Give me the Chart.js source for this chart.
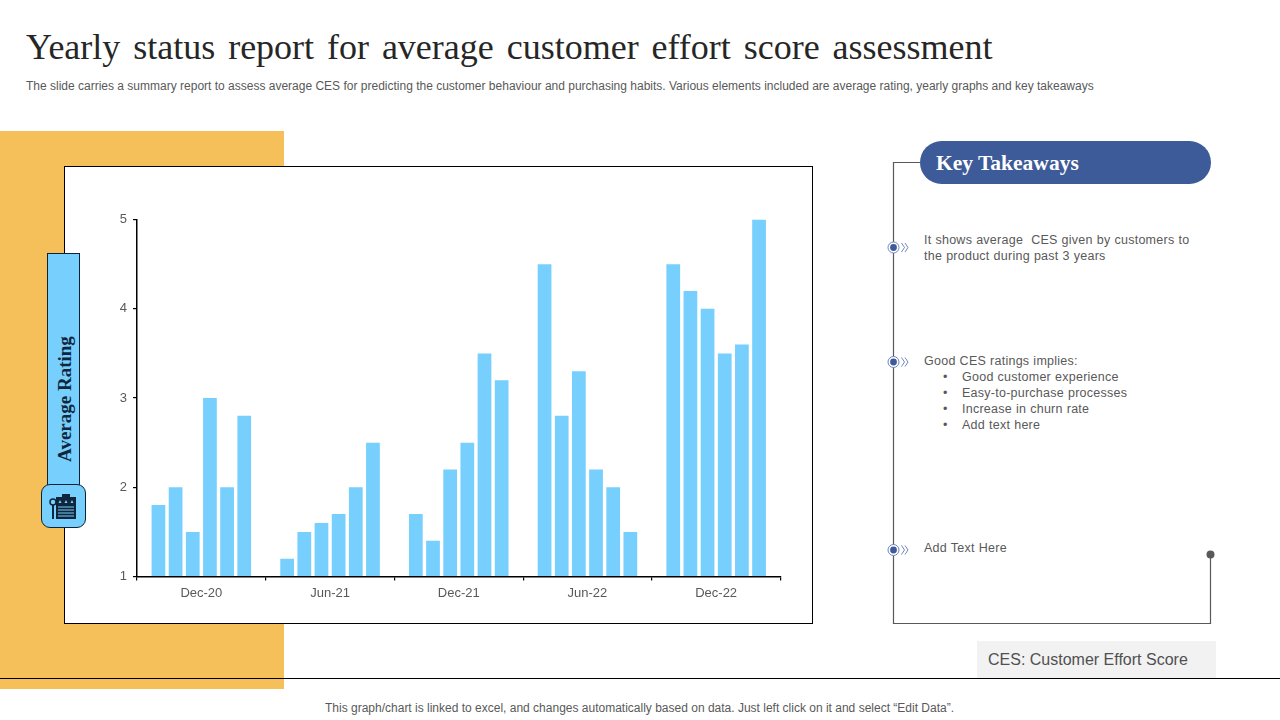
<!DOCTYPE html>
<html>
<head>
<meta charset="utf-8">
<title>Yearly status report</title>
<script src="https://cdn.jsdelivr.net/npm/chart.js@4"></script>
<style>
    html, body { margin: 0; padding: 0; background: #fff; }
    #page { position: relative; width: 1280px; height: 720px; overflow: hidden; font-family: "Liberation Sans", Arial, sans-serif; color: #595959; }
    #page div, #page svg, #page canvas { position: absolute; }
    .txt { white-space: nowrap; font-size: 12.5px; line-height: 16px; letter-spacing: 0.25px; word-spacing: 0.3px; }
    #title { left: 26px; top: 26px; font: 36px "Liberation Serif", serif; color: #262626; word-spacing: 3.9px; white-space: nowrap; }
    #sub { left: 26px; top: 79px; font-size: 12px; line-height: 14px; color: #595959; white-space: nowrap; }
    #orange { left: 0; top: 131px; width: 284px; height: 558px; background: #f5c05a; }
    #box { left: 64px; top: 166px; width: 747px; height: 456px; background: #fff; border: 1px solid #000; }
    #tab { left: 47px; top: 253px; width: 31px; height: 240px; background: #76cffc; border: 1px solid #0b2239; }
    #tabText { left: 65px; top: 399px; transform: translate(-50%, -50%) rotate(-90deg); font: bold 19px "Liberation Serif", serif; color: #10263c; white-space: nowrap; }
    #iconBox { left: 41px; top: 484px; width: 43px; height: 42px; background: #76cffc; border: 1px solid #0b2239; border-radius: 9px; }
    #pill { left: 920px; top: 141px; width: 291px; height: 43px; background: #3d5a99; border-radius: 22px; }
    #pillText { left: 936px; top: 151px; font: bold 21.5px "Liberation Serif", serif; color: #fff; white-space: nowrap; }
    #ces { left: 977px; top: 641px; width: 239px; height: 37px; background: #f2f2f2; }
    #cesText { left: 988px; top: 650px; font-size: 16px; line-height: 20px; color: #505050; white-space: nowrap; }
    #rule { left: 0; top: 678px; width: 1280px; height: 1px; background: #000; }
    #foot { left: 0; width: 1279px; top: 701px; text-align: center; font-size: 12px; line-height: 15px; color: #595959; }
</style>
</head>
<body>
<div id="page">
    <div id="title">Yearly status report for average customer effort score assessment</div>
    <div id="sub">The slide carries a summary report to assess average CES for predicting the customer behaviour and purchasing habits. Various elements included are average rating, yearly graphs and key takeaways</div>

    <div id="orange"></div>
    <div id="box"></div>
    <canvas id="chartCes"></canvas>

    <div id="tab"></div>
    <div id="tabText">Average Rating</div>
    <div id="iconBox"></div>
    <svg style="left:49px;top:493px" width="28" height="27" viewBox="0 0 28 27">
        <rect x="7" y="4" width="20" height="22" fill="#10263c"/>
        <rect x="13" y="1" width="8" height="4" fill="#10263c"/>
        <path d="M11 7l1.5 3h-3zM17 7l1.5 3h-3zM23 7l1.5 3h-3z" fill="#76cffc"/>
        <path d="M9 14h16M9 17h16M9 20h16M9 23h16" stroke="#76cffc" stroke-width="1"/>
        <circle cx="4" cy="9" r="3" fill="#76cffc" stroke="#10263c" stroke-width="1.5"/>
        <path d="M4 12v14" stroke="#10263c" stroke-width="2"/>
    </svg>

    <svg style="left:885px;top:155px" width="340" height="475" viewBox="885 155 340 475">
        <path d="M920 162.5H893.5V623.5H1210.5V554" fill="none" stroke="#595959" stroke-width="1.2"/>
        <circle cx="1210.5" cy="554.5" r="4" fill="#595959"/>
        <g id="marks"></g>
    </svg>

    <div id="pill"></div>
    <div id="pillText">Key Takeaways</div>

    <div class="txt" style="left:924px;top:232px">It shows average&nbsp; CES given by customers to<br>the product during past 3 years</div>
    <div class="txt" style="left:924px;top:353px">Good CES ratings implies:</div>
    <div class="txt" style="left:943px;top:369px">•</div>
    <div class="txt" style="left:962px;top:369px">Good customer experience</div>
    <div class="txt" style="left:943px;top:385px">•</div>
    <div class="txt" style="left:962px;top:385px">Easy-to-purchase processes</div>
    <div class="txt" style="left:943px;top:401px">•</div>
    <div class="txt" style="left:962px;top:401px">Increase in churn rate</div>
    <div class="txt" style="left:943px;top:417px">•</div>
    <div class="txt" style="left:962px;top:417px">Add text here</div>
    <div class="txt" style="left:924px;top:540px">Add Text Here</div>

    <div id="ces"></div>
    <div id="cesText">CES: Customer Effort Score</div>
    <div id="rule"></div>
    <div id="foot">This graph/chart is linked to excel, and changes automatically based on data. Just left click on it and select “Edit Data”.</div>
</div>

<script>
// ===== DATOS =====
const categories = ["Dec-20", "Jun-21", "Dec-21", "Jun-22", "Dec-22"];
const series1 = [1.8, 1.2, 1.7, 4.5, 4.5];
const series2 = [2.0, 1.5, 1.4, 2.8, 4.2];
const series3 = [1.5, 1.6, 2.2, 3.3, 4.0];
const series4 = [3.0, 1.7, 2.5, 2.2, 3.5];
const series5 = [2.0, 2.0, 3.5, 2.0, 3.6];
const series6 = [2.8, 2.5, 3.2, 1.5, 5.0];
const yTicks = [1, 2, 3, 4, 5];

const barColor = "#76cffc";
const allSeries = [series1, series2, series3, series4, series5, series6];

// ===== MARCADORES DE LA LINEA DERECHA =====
const marks = document.getElementById("marks");
[247.5, 362, 550].forEach(y => {
    marks.innerHTML += `<circle cx="893.5" cy="${y}" r="5.5" fill="#fff" stroke="#6f86bb" stroke-width="1"/>
        <circle cx="893.5" cy="${y}" r="3.4" fill="#3d5a99"/>
        <path d="M901.5 ${y - 4.5}l3 4.5l-3 4.5M905 ${y - 4.5}l3 4.5l-3 4.5" fill="none" stroke="#6f86bb" stroke-width="1"/>`;
});

// ===== GRAFICO =====
const canvas = document.getElementById("chartCes");
canvas.style.left = "65px";
canvas.style.top = "167px";
canvas.style.width = "747px";
canvas.style.height = "456px";

new Chart(canvas, {
    type: "bar",
    data: {
        labels: categories,
        datasets: allSeries.map((values, i) => ({
            label: "Series " + (i + 1),
            data: values,
            backgroundColor: barColor,
            categoryPercentage: 0.8,
            barPercentage: 0.8,
            // los valores parten del eje
            base: 1
        }))
    },
    options: {
        responsive: false,
        animation: false,
        devicePixelRatio: 1,
        // area del grafico: x 137-780, y 219.5-576.5
        layout: { padding: { left: 0, right: 31.5, top: 52.5, bottom: 0 } },
        plugins: {
            legend: { display: false },
            tooltip: { enabled: false }
        },
        scales: {
            x: {
                grid: { drawOnChartArea: false, color: "#000", tickLength: 4, lineWidth: 1.2 },
                border: { color: "#000", width: 1.5 },
                ticks: { color: "#595959", font: { family: "Liberation Sans", size: 13 }, padding: 5, maxRotation: 0 },
                afterFit: s => { s.height = 46.5; }
            },
            y: {
                min: 1,
                max: 5,
                afterBuildTicks: s => { s.ticks = yTicks.map(v => ({ value: v })); },
                grid: { drawOnChartArea: false, color: "#000", tickLength: 4, lineWidth: 1.2 },
                border: { color: "#000", width: 1.5 },
                ticks: { color: "#595959", font: { family: "Liberation Sans", size: 13 }, padding: 6 },
                afterFit: s => { s.width = 72; }
            }
        }
    }
});
</script>
</body>
</html>
